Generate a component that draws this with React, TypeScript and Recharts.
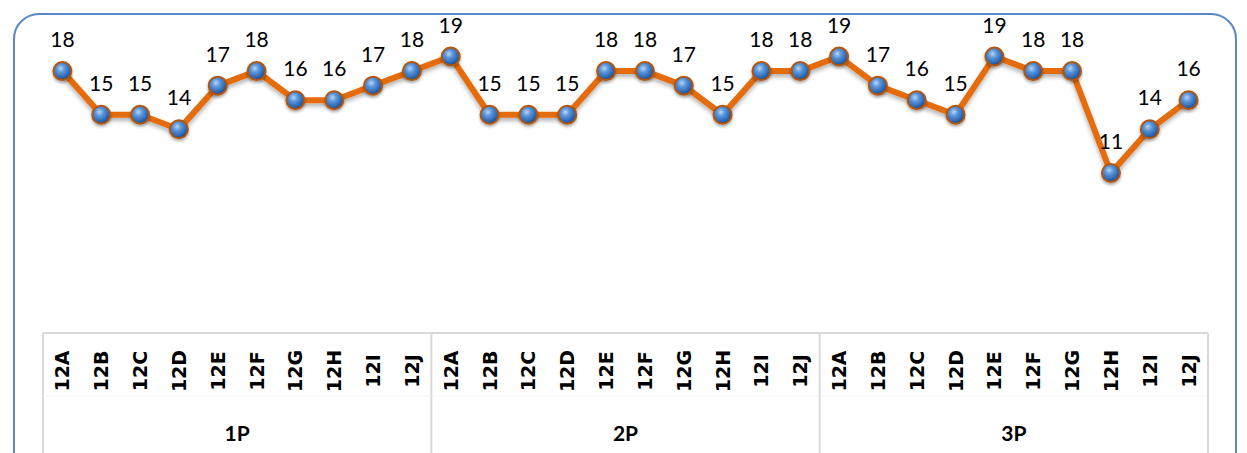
import { ComposedChart, Line, XAxis, YAxis, LabelList } from "recharts";

const groups = ["1P", "2P", "3P"];
const classes = ["12A", "12B", "12C", "12D", "12E", "12F", "12G", "12H", "12I", "12J"];
const scores1P = [18, 15, 15, 14, 17, 18, 16, 16, 17, 18];
const scores2P = [19, 15, 15, 15, 18, 18, 17, 15, 18, 18];
const scores3P = [19, 17, 16, 15, 19, 18, 18, 11, 14, 16];

const seriesByGroup = [scores1P, scores2P, scores3P];

const data = groups.flatMap((g, gi) =>
  classes.map((c, ci) => ({ key: `${g}|${c}`, group: g, cls: c, value: seriesByGroup[gi][ci] }))
);

const W = 1247;
const H = 453;
const margin = { top: 42, right: 39, left: 43, bottom: 0 };
const band = (W - margin.left - margin.right) / data.length;
const tableLine = "#D9D9D9";

function CategoryTick(props: any) {
  const { x, y, index } = props;
  const row = data[index];
  if (!row) return null;
  const ci = index % classes.length;
  return (
    <g>
      {ci === 0 && (
        <line x1={x - band / 2} x2={x - band / 2} y1={y} y2={H} stroke={tableLine} strokeWidth={2} />
      )}
      {index === data.length - 1 && (
        <line x1={x + band / 2} x2={x + band / 2} y1={y} y2={H} stroke={tableLine} strokeWidth={2} />
      )}
      {ci === 0 && (
        <line
          x1={x - band / 2}
          x2={x - band / 2 + band * classes.length}
          y1={y + 63}
          y2={y + 63}
          stroke="#F4F4F4"
          strokeWidth={1}
        />
      )}
      <text
        transform={`translate(${x},${y + 38}) rotate(-90)`}
        textAnchor="middle"
        dominantBaseline="central"
        fontFamily="'DejaVu Sans', sans-serif"
        fontWeight="bold"
        fontSize={19}
        fill="#000"
      >
        {row.cls}
      </text>
      {ci === 4 && (
        <text
          x={x + band / 2}
          y={y + 99}
          textAnchor="middle"
          dominantBaseline="central"
          fontFamily="Lato, sans-serif"
          fontWeight="bold"
          fontSize={21}
          fill="#000"
        >
          {row.group}
        </text>
      )}
    </g>
  );
}

function BallDot(props: any) {
  const { cx, cy, index } = props;
  if (cx == null || cy == null) return null;
  return (
    <g key={index} filter="url(#dotShadow)">
      <circle cx={cx} cy={cy} r={9} fill="url(#ball)" stroke="#B4560C" strokeWidth={2} />
    </g>
  );
}

export default function App() {
  return (
    <div
      style={{
        position: "absolute",
        left: 0,
        top: 0,
        width: W,
        height: H,
        overflow: "hidden",
        background: "#fff",
      }}
    >
      <div
        style={{
          position: "absolute",
          left: 13,
          top: 13,
          width: 1224,
          height: 520,
          border: "2px solid #5B87C6",
          borderRadius: 26,
          boxSizing: "border-box",
        }}
      />
      <div style={{ position: "absolute", left: 0, top: 0 }}>
        <ComposedChart width={W} height={H} data={data} margin={margin}>
          <defs>
            <radialGradient id="ball" cx="40%" cy="35%" r="65%">
              <stop offset="0%" stopColor="#B7D5F5" />
              <stop offset="35%" stopColor="#5A96DC" />
              <stop offset="80%" stopColor="#2B64AE" />
              <stop offset="100%" stopColor="#1E4A86" />
            </radialGradient>
            <filter id="lineShadow" x="-5%" y="-20%" width="110%" height="150%">
              <feDropShadow dx={0} dy={3} stdDeviation={2} floodColor="#000" floodOpacity={0.3} />
            </filter>
            <filter id="dotShadow" x="-50%" y="-50%" width="200%" height="200%">
              <feDropShadow dx={0} dy={2} stdDeviation={1.5} floodColor="#000" floodOpacity={0.35} />
            </filter>
          </defs>
          <XAxis
            dataKey="key"
            scale="band"
            interval={0}
            height={120}
            tickLine={false}
            tickSize={0}
            tickMargin={0}
            axisLine={{ stroke: tableLine, strokeWidth: 2 }}
            tick={<CategoryTick />}
          />
          <YAxis hide domain={[0, 20]} />
          <Line
            dataKey="value"
            type="linear"
            stroke="#E46C0A"
            strokeWidth={6}
            strokeLinejoin="round"
            filter="url(#lineShadow)"
            dot={<BallDot />}
            activeDot={false}
            isAnimationActive={false}
          >
            <LabelList
              dataKey="value"
              position="top"
              offset={24}
              style={{ fontFamily: "Lato, sans-serif", fontSize: 21, fill: "#000" }}
            />
          </Line>
        </ComposedChart>
      </div>
    </div>
  );
}
